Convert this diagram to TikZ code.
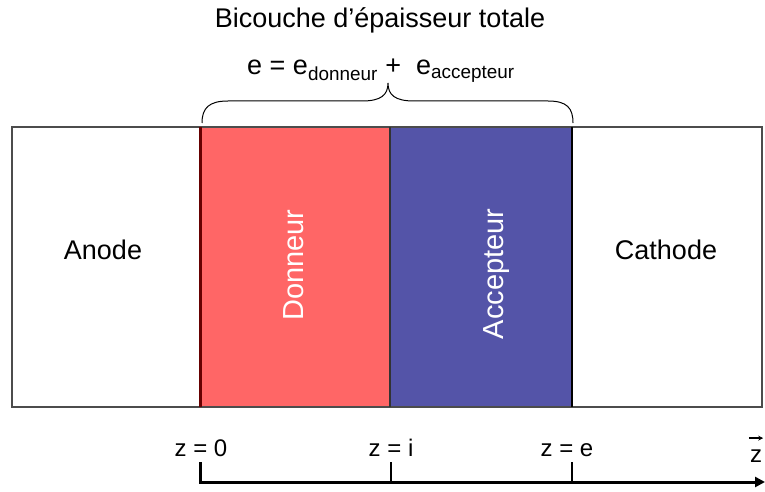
\documentclass[tikz,border=0pt]{standalone}
\usepackage{fontspec}
\setmainfont{Liberation Sans}
\usetikzlibrary{arrows.meta,positioning}
\definecolor{donneur}{HTML}{FF6666}
\definecolor{accepteur}{HTML}{5454A8}

\begin{document}
\begin{tikzpicture}[x=1pt,y=-1pt,font=\fontsize{27}{32}\selectfont,
   lbl/.style={inner sep=0pt,anchor=base},
   vlbl/.style={inner sep=0pt,anchor=base,rotate=90,text=white,
                font=\fontsize{29}{34}\selectfont},
   zlbl/.style={inner sep=0pt,anchor=base,font=\fontsize{24}{28}\selectfont},
   axe/.style={line width=3pt,-{Triangle[length=10pt,width=10pt]}},
   ztick/.style={line width=2pt}]
  \useasboundingbox (0,0) rectangle (765,492);
  % couches
  \fill[donneur] (200,127) rectangle (390,407);
  \fill[accepteur] (390,127) rectangle (572,407);
  \draw[black!70,line width=1.2pt] (12,127) rectangle (762,407);
  \draw[line width=2.5pt,red!40!black] (200.5,127) -- (200.5,407);
  \draw[line width=2pt,black!80] (390,127) -- (390,407);
  \draw[line width=2pt,black] (571.5,127) -- (571.5,407);
  % textes
  \node[lbl] (titre) at (380,28) {Bicouche d’épaisseur totale};
  \node[lbl,anchor=base west] (somme) at (247,75)
    {e = e\textsubscript{donneur} + \ e\textsubscript{accepteur}};
  \node[lbl] (anode) at (103,259) {Anode};
  \node[lbl] (cathode) at (666,259) {Cathode};
  \node[vlbl] (don) at (303,265) {Donneur};
  \node[vlbl] (acc) at (503,274) {Accepteur};
  % accolade
  \draw[line width=1pt] (202,123) .. controls (202,108) and (209,101) .. (228,101)
    -- (362,101) .. controls (381,101) and (388,95) .. (388,83)
    .. controls (388,95) and (395,101) .. (414,101) -- (548,101)
    .. controls (567,101) and (573,108) .. (573,123);
  % axe z
  \coordinate (z0) at (200,482);
  \coordinate (zi) at (391,482);
  \coordinate (ze) at (572,482);
  \coordinate (zfin) at (765,482);
  \draw[axe] (z0) ++(0,-20) -- (z0) -- (zfin);
  \draw[ztick] (zi) -- ++(0,-20);
  \draw[ztick] (ze) -- ++(0,-20);
  \node[zlbl] (l0) at (201,456) {z = 0};
  \node[zlbl] (li) at (391,456) {z = i};
  \node[zlbl] (le) at (567,456) {z = e};
  \node[zlbl] (zvec) at (756,462) {z};
  \draw[line width=1.5pt,-{Stealth[length=5pt,width=5pt]}]
    ([xshift=-1pt,yshift=11pt]zvec.north west) -- ([xshift=1pt,yshift=11pt]zvec.north east);
\end{tikzpicture}
\end{document}
